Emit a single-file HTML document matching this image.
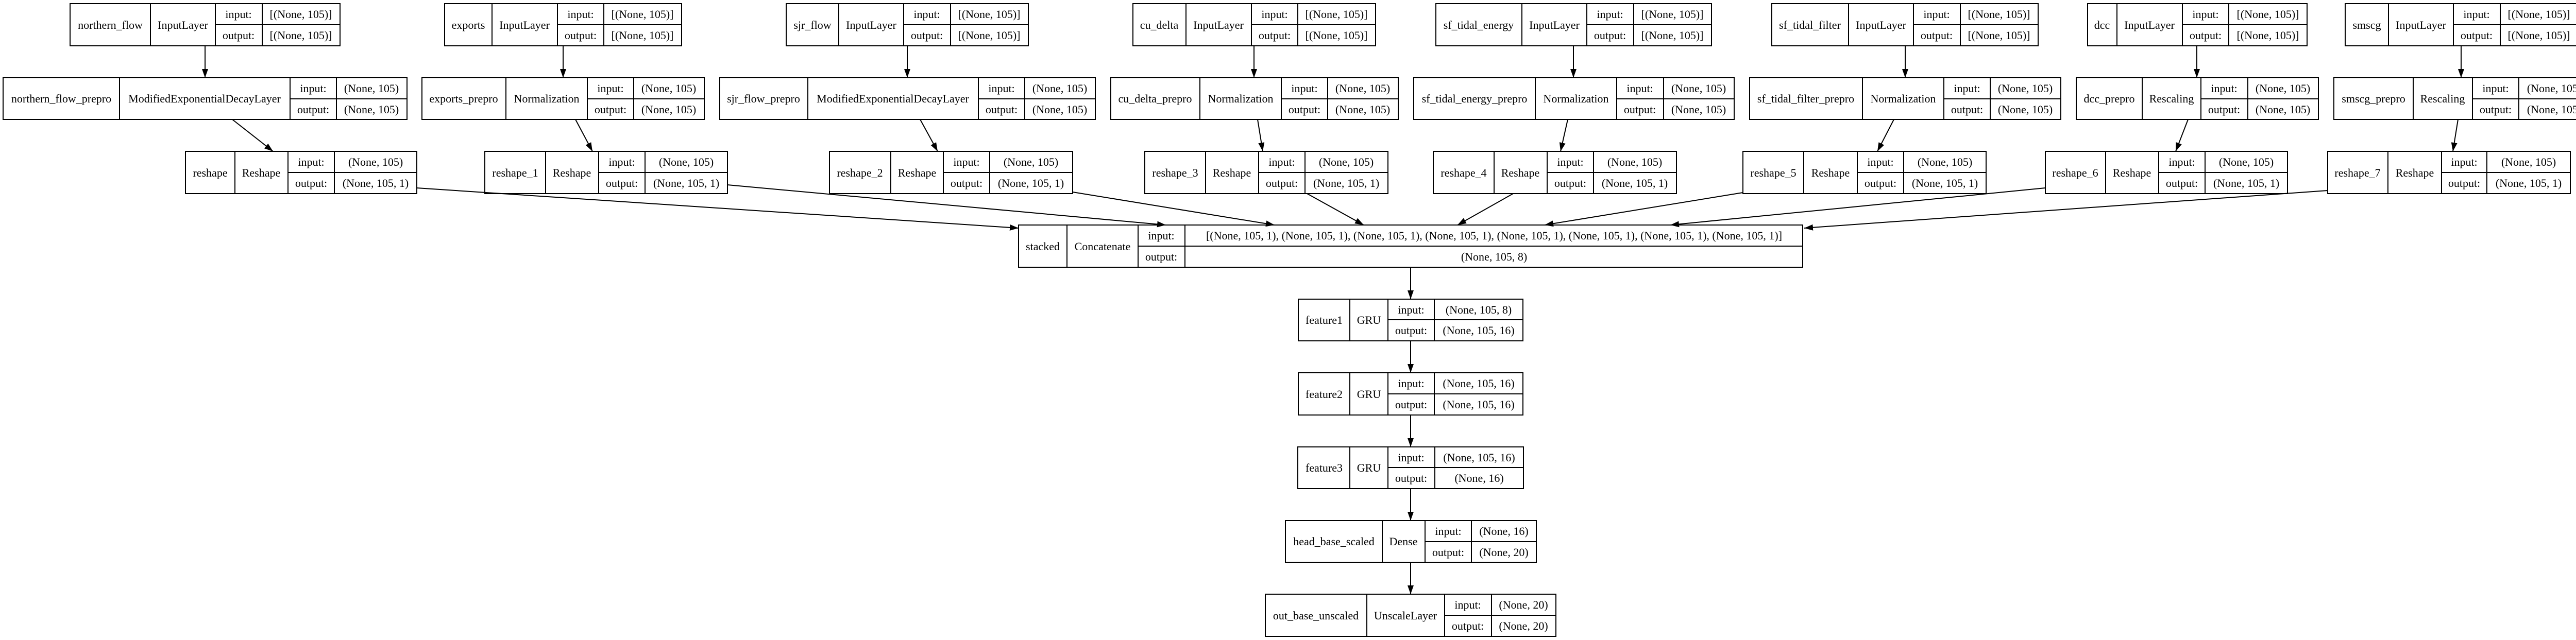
<!DOCTYPE html>
<html><head><meta charset="utf-8"><style>
html,body{margin:0;padding:0;background:#fff;width:5033px;height:1243px;overflow:hidden}
svg text{font-family:"Liberation Serif",serif;font-size:22px;text-anchor:middle;fill:#000}
</style></head><body>
<svg width="5033" height="1243" viewBox="0 0 5033 1243" xmlns="http://www.w3.org/2000/svg">
<defs><marker id="a" markerUnits="userSpaceOnUse" markerWidth="18" markerHeight="14" refX="17" refY="6" orient="auto"><path d="M0,0 L17,6 L0,12 z" fill="#000"/></marker></defs>
<g fill="none" stroke="#000" stroke-width="2">
<!-- R1 -->
<path d="M136,7H660V89H136Z M292,7V89 M418,7V89 M509,7V89 M418,48H660"/>
<path d="M863,7H1323V89H863Z M955,7V89 M1082,7V89 M1172,7V89 M1082,48H1323"/>
<path d="M1526,7H1996V89H1526Z M1628,7V89 M1754,7V89 M1845,7V89 M1754,48H1996"/>
<path d="M2199,7H2670V89H2199Z M2302,7V89 M2429,7V89 M2519,7V89 M2429,48H2670"/>
<path d="M2787,7H3322V89H2787Z M2954,7V89 M3080,7V89 M3171,7V89 M3080,48H3322"/>
<path d="M3439,7H3956V89H3439Z M3588,7V89 M3714,7V89 M3805,7V89 M3714,48H3956"/>
<path d="M4052,7H4478V89H4052Z M4109,7V89 M4236,7V89 M4326,7V89 M4236,48H4478"/>
<path d="M4552,7H5003V89H4552Z M4636,7V89 M4762,7V89 M4853,7V89 M4762,48H5003"/>
<!-- R2 -->
<path d="M6,151H790V232H6Z M232,151V232 M563,151V232 M653,151V232 M563,192H790"/>
<path d="M819,151H1367V232H819Z M982,151V232 M1140,151V232 M1230,151V232 M1140,192H1367"/>
<path d="M1397,151H2126V232H1397Z M1568,151V232 M1899,151V232 M1989,151V232 M1899,192H2126"/>
<path d="M2156,151H2714V232H2156Z M2329,151V232 M2487,151V232 M2577,151V232 M2487,192H2714"/>
<path d="M2744,151H3366V232H2744Z M2980,151V232 M3138,151V232 M3229,151V232 M3138,192H3366"/>
<path d="M3396,151H4000V232H3396Z M3615,151V232 M3773,151V232 M3863,151V232 M3773,192H4000"/>
<path d="M4030,151H4500V232H4030Z M4158,151V232 M4272,151V232 M4363,151V232 M4272,192H4500"/>
<path d="M4530,151H5027V232H4530Z M4684,151V232 M4799,151V232 M4889,151V232 M4799,192H5027"/>
<!-- R3 -->
<path d="M360,294H809V376H360Z M456,294V376 M559,294V376 M649,294V376 M559,335H809"/>
<path d="M941,294H1412V376H941Z M1059,294V376 M1162,294V376 M1252,294V376 M1162,335H1412"/>
<path d="M1610,294H2082V376H1610Z M1729,294V376 M1831,294V376 M1921,294V376 M1831,335H2082"/>
<path d="M2222,294H2694V376H2222Z M2340,294V376 M2443,294V376 M2533,294V376 M2443,335H2694"/>
<path d="M2782,294H3254V376H2782Z M2900,294V376 M3003,294V376 M3093,294V376 M3003,335H3254"/>
<path d="M3383,294H3855V376H3383Z M3501,294V376 M3605,294V376 M3695,294V376 M3605,335H3855"/>
<path d="M3970,294H4440V376H3970Z M4087,294V376 M4190,294V376 M4280,294V376 M4190,335H4440"/>
<path d="M4518,294H4989V376H4518Z M4635,294V376 M4739,294V376 M4827,294V376 M4739,335H4989"/>
<!-- concat & chain -->
<path d="M1977,437H3499V519H1977Z M2071,437V519 M2209,437V519 M2300,437V519 M2209,478H3499"/>
<path d="M2520,581H2956V662H2520Z M2620,581V662 M2694,581V662 M2784,581V662 M2694,621H2956"/>
<path d="M2520,724H2956V806H2520Z M2620,724V806 M2694,724V806 M2784,724V806 M2694,765H2956"/>
<path d="M2519,868H2957V949H2519Z M2620,868V949 M2694,868V949 M2785,868V949 M2694,908H2957"/>
<path d="M2495,1011H2982V1092H2495Z M2683,1011V1092 M2766,1011V1092 M2856,1011V1092 M2766,1052H2982"/>
<path d="M2456,1154H3020V1236H2456Z M2653,1154V1236 M2804,1154V1236 M2895,1154V1236 M2804,1195H3020"/>
</g>
<g stroke="#000" stroke-width="2" marker-end="url(#a)">
<line x1="398" y1="89" x2="398" y2="151"/><line x1="1093" y1="89" x2="1093" y2="151"/>
<line x1="1761" y1="89" x2="1761" y2="151"/><line x1="2434" y1="89" x2="2434" y2="151"/>
<line x1="3054" y1="89" x2="3054" y2="151"/><line x1="3698" y1="89" x2="3698" y2="151"/>
<line x1="4264" y1="89" x2="4264" y2="151"/><line x1="4777" y1="89" x2="4777" y2="151"/>
<line x1="451" y1="232" x2="530" y2="294"/><line x1="1117" y1="232" x2="1150" y2="294"/>
<line x1="1786" y1="232" x2="1820" y2="294"/><line x1="2441" y1="232" x2="2451" y2="294"/>
<line x1="3043" y1="232" x2="3029" y2="294"/><line x1="3676" y1="232" x2="3644" y2="294"/>
<line x1="4247" y1="232" x2="4223" y2="294"/><line x1="4771" y1="232" x2="4761" y2="294"/>
<line x1="809" y1="365" x2="1977" y2="443"/><line x1="1412" y1="359" x2="2263" y2="437"/>
<line x1="2082" y1="373" x2="2474" y2="437"/><line x1="2537" y1="376" x2="2647" y2="437"/>
<line x1="2937" y1="376" x2="2829" y2="437"/><line x1="3383" y1="374" x2="2998" y2="437"/>
<line x1="3970" y1="365" x2="3242" y2="437"/><line x1="4518" y1="370" x2="3502" y2="443"/>
<line x1="2738" y1="519" x2="2738" y2="581"/><line x1="2738" y1="662" x2="2738" y2="724"/>
<line x1="2738" y1="806" x2="2738" y2="868"/><line x1="2738" y1="949" x2="2738" y2="1011"/>
<line x1="2738" y1="1092" x2="2738" y2="1154"/>
</g>
<g>
<!-- R1 text -->
<text x="214" y="56">northern_flow</text><text x="355" y="56">InputLayer</text><text x="463" y="35">input:</text><text x="463" y="76">output:</text><text x="584" y="35">[(None, 105)]</text><text x="584" y="76">[(None, 105)]</text>
<text x="909" y="56">exports</text><text x="1018" y="56">InputLayer</text><text x="1127" y="35">input:</text><text x="1127" y="76">output:</text><text x="1247" y="35">[(None, 105)]</text><text x="1247" y="76">[(None, 105)]</text>
<text x="1577" y="56">sjr_flow</text><text x="1691" y="56">InputLayer</text><text x="1799" y="35">input:</text><text x="1799" y="76">output:</text><text x="1920" y="35">[(None, 105)]</text><text x="1920" y="76">[(None, 105)]</text>
<text x="2250" y="56">cu_delta</text><text x="2365" y="56">InputLayer</text><text x="2474" y="35">input:</text><text x="2474" y="76">output:</text><text x="2594" y="35">[(None, 105)]</text><text x="2594" y="76">[(None, 105)]</text>
<text x="2870" y="56">sf_tidal_energy</text><text x="3017" y="56">InputLayer</text><text x="3125" y="35">input:</text><text x="3125" y="76">output:</text><text x="3246" y="35">[(None, 105)]</text><text x="3246" y="76">[(None, 105)]</text>
<text x="3513" y="56">sf_tidal_filter</text><text x="3651" y="56">InputLayer</text><text x="3759" y="35">input:</text><text x="3759" y="76">output:</text><text x="3880" y="35">[(None, 105)]</text><text x="3880" y="76">[(None, 105)]</text>
<text x="4080" y="56">dcc</text><text x="4172" y="56">InputLayer</text><text x="4281" y="35">input:</text><text x="4281" y="76">output:</text><text x="4402" y="35">[(None, 105)]</text><text x="4402" y="76">[(None, 105)]</text>
<text x="4594" y="56">smscg</text><text x="4699" y="56">InputLayer</text><text x="4807" y="35">input:</text><text x="4807" y="76">output:</text><text x="4928" y="35">[(None, 105)]</text><text x="4928" y="76">[(None, 105)]</text>
<!-- R2 text -->
<text x="119" y="199">northern_flow_prepro</text><text x="397" y="199">ModifiedExponentialDecayLayer</text><text x="608" y="179">input:</text><text x="608" y="220">output:</text><text x="721" y="179">(None, 105)</text><text x="721" y="220">(None, 105)</text>
<text x="900" y="199">exports_prepro</text><text x="1061" y="199">Normalization</text><text x="1185" y="179">input:</text><text x="1185" y="220">output:</text><text x="1298" y="179">(None, 105)</text><text x="1298" y="220">(None, 105)</text>
<text x="1482" y="199">sjr_flow_prepro</text><text x="1733" y="199">ModifiedExponentialDecayLayer</text><text x="1944" y="179">input:</text><text x="1944" y="220">output:</text><text x="2057" y="179">(None, 105)</text><text x="2057" y="220">(None, 105)</text>
<text x="2242" y="199">cu_delta_prepro</text><text x="2408" y="199">Normalization</text><text x="2532" y="179">input:</text><text x="2532" y="220">output:</text><text x="2645" y="179">(None, 105)</text><text x="2645" y="220">(None, 105)</text>
<text x="2862" y="199">sf_tidal_energy_prepro</text><text x="3059" y="199">Normalization</text><text x="3183" y="179">input:</text><text x="3183" y="220">output:</text><text x="3297" y="179">(None, 105)</text><text x="3297" y="220">(None, 105)</text>
<text x="3505" y="199">sf_tidal_filter_prepro</text><text x="3694" y="199">Normalization</text><text x="3818" y="179">input:</text><text x="3818" y="220">output:</text><text x="3931" y="179">(None, 105)</text><text x="3931" y="220">(None, 105)</text>
<text x="4094" y="199">dcc_prepro</text><text x="4215" y="199">Rescaling</text><text x="4317" y="179">input:</text><text x="4317" y="220">output:</text><text x="4431" y="179">(None, 105)</text><text x="4431" y="220">(None, 105)</text>
<text x="4607" y="199">smscg_prepro</text><text x="4741" y="199">Rescaling</text><text x="4844" y="179">input:</text><text x="4844" y="220">output:</text><text x="4958" y="179">(None, 105)</text><text x="4958" y="220">(None, 105)</text>
<!-- R3 text -->
<text x="408" y="343">reshape</text><text x="507" y="343">Reshape</text><text x="604" y="322">input:</text><text x="604" y="363">output:</text><text x="729" y="322">(None, 105)</text><text x="729" y="363">(None, 105, 1)</text>
<text x="1000" y="343">reshape_1</text><text x="1110" y="343">Reshape</text><text x="1207" y="322">input:</text><text x="1207" y="363">output:</text><text x="1332" y="322">(None, 105)</text><text x="1332" y="363">(None, 105, 1)</text>
<text x="1669" y="343">reshape_2</text><text x="1780" y="343">Reshape</text><text x="1876" y="322">input:</text><text x="1876" y="363">output:</text><text x="2001" y="322">(None, 105)</text><text x="2001" y="363">(None, 105, 1)</text>
<text x="2281" y="343">reshape_3</text><text x="2391" y="343">Reshape</text><text x="2488" y="322">input:</text><text x="2488" y="363">output:</text><text x="2613" y="322">(None, 105)</text><text x="2613" y="363">(None, 105, 1)</text>
<text x="2841" y="343">reshape_4</text><text x="2951" y="343">Reshape</text><text x="3048" y="322">input:</text><text x="3048" y="363">output:</text><text x="3173" y="322">(None, 105)</text><text x="3173" y="363">(None, 105, 1)</text>
<text x="3442" y="343">reshape_5</text><text x="3553" y="343">Reshape</text><text x="3650" y="322">input:</text><text x="3650" y="363">output:</text><text x="3775" y="322">(None, 105)</text><text x="3775" y="363">(None, 105, 1)</text>
<text x="4028" y="343">reshape_6</text><text x="4138" y="343">Reshape</text><text x="4235" y="322">input:</text><text x="4235" y="363">output:</text><text x="4360" y="322">(None, 105)</text><text x="4360" y="363">(None, 105, 1)</text>
<text x="4576" y="343">reshape_7</text><text x="4687" y="343">Reshape</text><text x="4783" y="322">input:</text><text x="4783" y="363">output:</text><text x="4908" y="322">(None, 105)</text><text x="4908" y="363">(None, 105, 1)</text>
<!-- concat -->
<text x="2024" y="486">stacked</text><text x="2140" y="486">Concatenate</text><text x="2254" y="465">input:</text><text x="2254" y="506">output:</text><text x="2900" y="465">[(None, 105, 1), (None, 105, 1), (None, 105, 1), (None, 105, 1), (None, 105, 1), (None, 105, 1), (None, 105, 1), (None, 105, 1)]</text><text x="2900" y="506">(None, 105, 8)</text>
<text x="2570" y="629">feature1</text><text x="2657" y="629">GRU</text><text x="2739" y="609">input:</text><text x="2739" y="649">output:</text><text x="2870" y="609">(None, 105, 8)</text><text x="2870" y="649">(None, 105, 16)</text>
<text x="2570" y="773">feature2</text><text x="2657" y="773">GRU</text><text x="2739" y="752">input:</text><text x="2739" y="793">output:</text><text x="2870" y="752">(None, 105, 16)</text><text x="2870" y="793">(None, 105, 16)</text>
<text x="2570" y="916">feature3</text><text x="2657" y="916">GRU</text><text x="2739" y="896">input:</text><text x="2739" y="936">output:</text><text x="2871" y="896">(None, 105, 16)</text><text x="2871" y="936">(None, 16)</text>
<text x="2589" y="1059">head_base_scaled</text><text x="2724" y="1059">Dense</text><text x="2811" y="1039">input:</text><text x="2811" y="1080">output:</text><text x="2919" y="1039">(None, 16)</text><text x="2919" y="1080">(None, 20)</text>
<text x="2554" y="1203">out_base_unscaled</text><text x="2728" y="1203">UnscaleLayer</text><text x="2849" y="1182">input:</text><text x="2849" y="1223">output:</text><text x="2957" y="1182">(None, 20)</text><text x="2957" y="1223">(None, 20)</text>
</g>
</svg>
</body></html>
